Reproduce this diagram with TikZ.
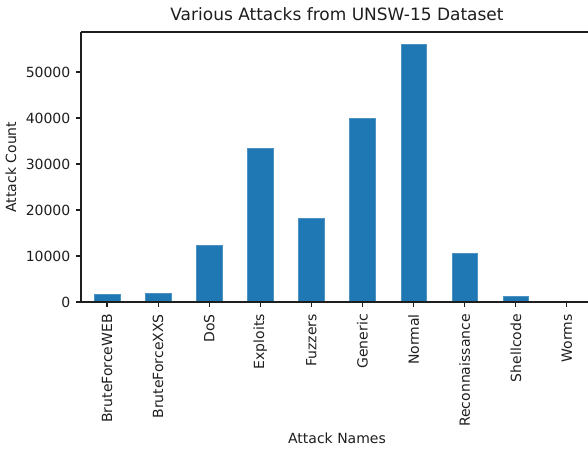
\documentclass[tikz,border=0pt]{standalone}
\usepackage{fontspec}
\setmainfont{DejaVu Sans}
\definecolor{mpl-blue}{RGB}{31,119,180}
\definecolor{mpl-ink}{RGB}{30,30,30}

\begin{document}
\begin{tikzpicture}[x=1pt,y=1pt]
    \tikzset{ axis/.style   ={draw=mpl-ink, line width=1.1pt} }
    \tikzset{ bar/.style    ={fill=mpl-blue, draw=mpl-blue!80!white, line width=0.6pt} }
    \tikzset{ ticklbl/.style={text=mpl-ink, inner sep=0pt, font=\fontsize{14}{16}\selectfont} }
    \tikzset{ axlbl/.style  ={text=mpl-ink, inner sep=0pt, font=\fontsize{14}{16}\selectfont} }

    \useasboundingbox (0,0) rectangle (588,448);
    \coordinate (origin) at (81,146);
    \coordinate (corner) at (588,416);

    % bars, values in thousands
    \foreach \name/\val [count=\i from 0] in {BruteForceWEB/1.746, BruteForceXXS/2.0, DoS/12.264, Exploits/33.393, Fuzzers/18.184, Generic/40.0, Normal/56.0, Reconnaissance/10.491, Shellcode/1.133, Worms/0.13} {
        \filldraw[bar] (107+51.1*\i-12.8,146) rectangle ++(25.6,\val*4.6);
        \draw[axis] (107+51.1*\i,146) -- ++(0,-5) coordinate (xt\i);
        \node[ticklbl, rotate=90, anchor=east] (xl\i) at ([yshift=-7pt]xt\i) {\name};
    }

    % y ticks
    \foreach \v in {0,...,5} {
        \draw[axis] (81,146+\v*46) -- ++(-5,0) coordinate (yt\v);
        \node[ticklbl, anchor=east] (yl\v) at ([xshift=-5.5pt]yt\v) {\ifnum\v=0 0\else\v0000\fi};
    }

    \draw[axis] (origin |- corner) -- (origin) -- (corner |- origin);
    \draw[axis] (origin |- corner) -- (corner);

    \node[axlbl] (xname) at (337,10) {Attack Names};
    \node[axlbl, rotate=90] (yname) at (11,281) {Attack Count};
    \node[text=mpl-ink, inner sep=0pt, font=\fontsize{17}{20}\selectfont] (title) at (337,434) {Various Attacks from UNSW-15 Dataset};
\end{tikzpicture}
\end{document}
